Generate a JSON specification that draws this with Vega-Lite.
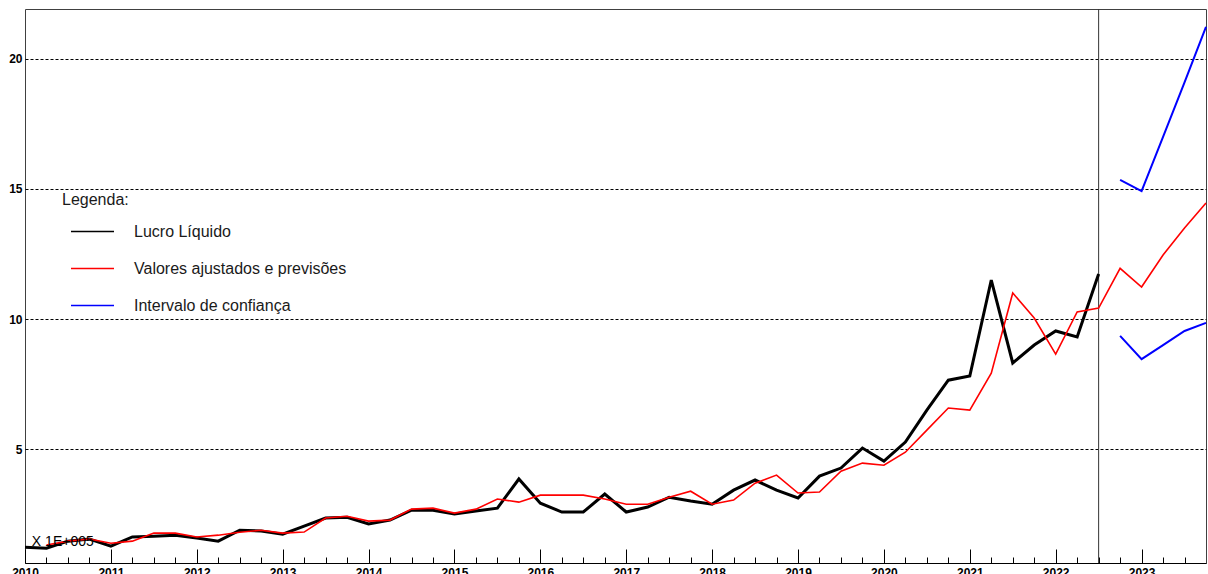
{
  "$schema": "https://vega.github.io/schema/vega-lite/v6.json",
  "width": 1181,
  "height": 554,
  "autosize": "none",
  "padding": {"left": 25, "top": 9, "right": 2, "bottom": 11},
  "background": "white",
  "config": {"view": {"stroke": "#404040", "strokeWidth": 1}, "font": "Liberation Sans"},
  "datasets": {
    "series": [
      {"t": 2010.0, "v": 1.23, "s": "Lucro Líquido", "g": "a"},
      {"t": 2010.25, "v": 1.19, "s": "Lucro Líquido", "g": "a"},
      {"t": 2010.5, "v": 1.46, "s": "Lucro Líquido", "g": "a"},
      {"t": 2010.75, "v": 1.54, "s": "Lucro Líquido", "g": "a"},
      {"t": 2011.0, "v": 1.27, "s": "Lucro Líquido", "g": "a"},
      {"t": 2011.25, "v": 1.62, "s": "Lucro Líquido", "g": "a"},
      {"t": 2011.5, "v": 1.65, "s": "Lucro Líquido", "g": "a"},
      {"t": 2011.75, "v": 1.69, "s": "Lucro Líquido", "g": "a"},
      {"t": 2012.0, "v": 1.58, "s": "Lucro Líquido", "g": "a"},
      {"t": 2012.25, "v": 1.46, "s": "Lucro Líquido", "g": "a"},
      {"t": 2012.5, "v": 1.88, "s": "Lucro Líquido", "g": "a"},
      {"t": 2012.75, "v": 1.85, "s": "Lucro Líquido", "g": "a"},
      {"t": 2013.0, "v": 1.73, "s": "Lucro Líquido", "g": "a"},
      {"t": 2013.25, "v": 2.04, "s": "Lucro Líquido", "g": "a"},
      {"t": 2013.5, "v": 2.35, "s": "Lucro Líquido", "g": "a"},
      {"t": 2013.75, "v": 2.38, "s": "Lucro Líquido", "g": "a"},
      {"t": 2014.0, "v": 2.12, "s": "Lucro Líquido", "g": "a"},
      {"t": 2014.25, "v": 2.27, "s": "Lucro Líquido", "g": "a"},
      {"t": 2014.5, "v": 2.65, "s": "Lucro Líquido", "g": "a"},
      {"t": 2014.75, "v": 2.65, "s": "Lucro Líquido", "g": "a"},
      {"t": 2015.0, "v": 2.5, "s": "Lucro Líquido", "g": "a"},
      {"t": 2015.25, "v": 2.62, "s": "Lucro Líquido", "g": "a"},
      {"t": 2015.5, "v": 2.73, "s": "Lucro Líquido", "g": "a"},
      {"t": 2015.75, "v": 3.85, "s": "Lucro Líquido", "g": "a"},
      {"t": 2016.0, "v": 2.92, "s": "Lucro Líquido", "g": "a"},
      {"t": 2016.25, "v": 2.58, "s": "Lucro Líquido", "g": "a"},
      {"t": 2016.5, "v": 2.58, "s": "Lucro Líquido", "g": "a"},
      {"t": 2016.75, "v": 3.27, "s": "Lucro Líquido", "g": "a"},
      {"t": 2017.0, "v": 2.58, "s": "Lucro Líquido", "g": "a"},
      {"t": 2017.25, "v": 2.77, "s": "Lucro Líquido", "g": "a"},
      {"t": 2017.5, "v": 3.15, "s": "Lucro Líquido", "g": "a"},
      {"t": 2017.75, "v": 3.0, "s": "Lucro Líquido", "g": "a"},
      {"t": 2018.0, "v": 2.88, "s": "Lucro Líquido", "g": "a"},
      {"t": 2018.25, "v": 3.42, "s": "Lucro Líquido", "g": "a"},
      {"t": 2018.5, "v": 3.81, "s": "Lucro Líquido", "g": "a"},
      {"t": 2018.75, "v": 3.42, "s": "Lucro Líquido", "g": "a"},
      {"t": 2019.0, "v": 3.12, "s": "Lucro Líquido", "g": "a"},
      {"t": 2019.25, "v": 3.96, "s": "Lucro Líquido", "g": "a"},
      {"t": 2019.5, "v": 4.27, "s": "Lucro Líquido", "g": "a"},
      {"t": 2019.75, "v": 5.04, "s": "Lucro Líquido", "g": "a"},
      {"t": 2020.0, "v": 4.54, "s": "Lucro Líquido", "g": "a"},
      {"t": 2020.25, "v": 5.27, "s": "Lucro Líquido", "g": "a"},
      {"t": 2020.5, "v": 6.5, "s": "Lucro Líquido", "g": "a"},
      {"t": 2020.75, "v": 7.65, "s": "Lucro Líquido", "g": "a"},
      {"t": 2021.0, "v": 7.81, "s": "Lucro Líquido", "g": "a"},
      {"t": 2021.25, "v": 11.5, "s": "Lucro Líquido", "g": "a"},
      {"t": 2021.5, "v": 8.31, "s": "Lucro Líquido", "g": "a"},
      {"t": 2021.75, "v": 9.0, "s": "Lucro Líquido", "g": "a"},
      {"t": 2022.0, "v": 9.54, "s": "Lucro Líquido", "g": "a"},
      {"t": 2022.25, "v": 9.31, "s": "Lucro Líquido", "g": "a"},
      {"t": 2022.5, "v": 11.73, "s": "Lucro Líquido", "g": "a"},
      {"t": 2010.25, "v": 1.31, "s": "Valores ajustados e previsões", "g": "b"},
      {"t": 2010.5, "v": 1.46, "s": "Valores ajustados e previsões", "g": "b"},
      {"t": 2010.75, "v": 1.54, "s": "Valores ajustados e previsões", "g": "b"},
      {"t": 2011.0, "v": 1.38, "s": "Valores ajustados e previsões", "g": "b"},
      {"t": 2011.25, "v": 1.46, "s": "Valores ajustados e previsões", "g": "b"},
      {"t": 2011.5, "v": 1.77, "s": "Valores ajustados e previsões", "g": "b"},
      {"t": 2011.75, "v": 1.77, "s": "Valores ajustados e previsões", "g": "b"},
      {"t": 2012.0, "v": 1.62, "s": "Valores ajustados e previsões", "g": "b"},
      {"t": 2012.25, "v": 1.69, "s": "Valores ajustados e previsões", "g": "b"},
      {"t": 2012.5, "v": 1.8, "s": "Valores ajustados e previsões", "g": "b"},
      {"t": 2012.75, "v": 1.88, "s": "Valores ajustados e previsões", "g": "b"},
      {"t": 2013.0, "v": 1.77, "s": "Valores ajustados e previsões", "g": "b"},
      {"t": 2013.25, "v": 1.81, "s": "Valores ajustados e previsões", "g": "b"},
      {"t": 2013.5, "v": 2.35, "s": "Valores ajustados e previsões", "g": "b"},
      {"t": 2013.75, "v": 2.42, "s": "Valores ajustados e previsões", "g": "b"},
      {"t": 2014.0, "v": 2.23, "s": "Valores ajustados e previsões", "g": "b"},
      {"t": 2014.25, "v": 2.27, "s": "Valores ajustados e previsões", "g": "b"},
      {"t": 2014.5, "v": 2.69, "s": "Valores ajustados e previsões", "g": "b"},
      {"t": 2014.75, "v": 2.73, "s": "Valores ajustados e previsões", "g": "b"},
      {"t": 2015.0, "v": 2.54, "s": "Valores ajustados e previsões", "g": "b"},
      {"t": 2015.25, "v": 2.69, "s": "Valores ajustados e previsões", "g": "b"},
      {"t": 2015.5, "v": 3.08, "s": "Valores ajustados e previsões", "g": "b"},
      {"t": 2015.75, "v": 2.96, "s": "Valores ajustados e previsões", "g": "b"},
      {"t": 2016.0, "v": 3.23, "s": "Valores ajustados e previsões", "g": "b"},
      {"t": 2016.25, "v": 3.23, "s": "Valores ajustados e previsões", "g": "b"},
      {"t": 2016.5, "v": 3.23, "s": "Valores ajustados e previsões", "g": "b"},
      {"t": 2016.75, "v": 3.08, "s": "Valores ajustados e previsões", "g": "b"},
      {"t": 2017.0, "v": 2.88, "s": "Valores ajustados e previsões", "g": "b"},
      {"t": 2017.25, "v": 2.88, "s": "Valores ajustados e previsões", "g": "b"},
      {"t": 2017.5, "v": 3.15, "s": "Valores ajustados e previsões", "g": "b"},
      {"t": 2017.75, "v": 3.38, "s": "Valores ajustados e previsões", "g": "b"},
      {"t": 2018.0, "v": 2.88, "s": "Valores ajustados e previsões", "g": "b"},
      {"t": 2018.25, "v": 3.04, "s": "Valores ajustados e previsões", "g": "b"},
      {"t": 2018.5, "v": 3.69, "s": "Valores ajustados e previsões", "g": "b"},
      {"t": 2018.75, "v": 4.0, "s": "Valores ajustados e previsões", "g": "b"},
      {"t": 2019.0, "v": 3.31, "s": "Valores ajustados e previsões", "g": "b"},
      {"t": 2019.25, "v": 3.35, "s": "Valores ajustados e previsões", "g": "b"},
      {"t": 2019.5, "v": 4.15, "s": "Valores ajustados e previsões", "g": "b"},
      {"t": 2019.75, "v": 4.46, "s": "Valores ajustados e previsões", "g": "b"},
      {"t": 2020.0, "v": 4.38, "s": "Valores ajustados e previsões", "g": "b"},
      {"t": 2020.25, "v": 4.88, "s": "Valores ajustados e previsões", "g": "b"},
      {"t": 2020.5, "v": 5.73, "s": "Valores ajustados e previsões", "g": "b"},
      {"t": 2020.75, "v": 6.58, "s": "Valores ajustados e previsões", "g": "b"},
      {"t": 2021.0, "v": 6.5, "s": "Valores ajustados e previsões", "g": "b"},
      {"t": 2021.25, "v": 7.92, "s": "Valores ajustados e previsões", "g": "b"},
      {"t": 2021.5, "v": 11.0, "s": "Valores ajustados e previsões", "g": "b"},
      {"t": 2021.75, "v": 10.04, "s": "Valores ajustados e previsões", "g": "b"},
      {"t": 2022.0, "v": 8.65, "s": "Valores ajustados e previsões", "g": "b"},
      {"t": 2022.25, "v": 10.27, "s": "Valores ajustados e previsões", "g": "b"},
      {"t": 2022.5, "v": 10.42, "s": "Valores ajustados e previsões", "g": "b"},
      {"t": 2022.75, "v": 11.95, "s": "Valores ajustados e previsões", "g": "b"},
      {"t": 2023.0, "v": 11.23, "s": "Valores ajustados e previsões", "g": "b"},
      {"t": 2023.25, "v": 12.46, "s": "Valores ajustados e previsões", "g": "b"},
      {"t": 2023.5, "v": 13.5, "s": "Valores ajustados e previsões", "g": "b"},
      {"t": 2023.75, "v": 14.46, "s": "Valores ajustados e previsões", "g": "b"},
      {"t": 2022.75, "v": 15.35, "s": "Intervalo de confiança", "g": "sup"},
      {"t": 2023.0, "v": 14.92, "s": "Intervalo de confiança", "g": "sup"},
      {"t": 2023.25, "v": 17.0, "s": "Intervalo de confiança", "g": "sup"},
      {"t": 2023.5, "v": 19.1, "s": "Intervalo de confiança", "g": "sup"},
      {"t": 2023.75, "v": 21.23, "s": "Intervalo de confiança", "g": "sup"},
      {"t": 2022.75, "v": 9.35, "s": "Intervalo de confiança", "g": "inf"},
      {"t": 2023.0, "v": 8.46, "s": "Intervalo de confiança", "g": "inf"},
      {"t": 2023.25, "v": 9.0, "s": "Intervalo de confiança", "g": "inf"},
      {"t": 2023.5, "v": 9.54, "s": "Intervalo de confiança", "g": "inf"},
      {"t": 2023.75, "v": 9.85, "s": "Intervalo de confiança", "g": "inf"}
    ],
    "divisor": [{"t": 2022.5}],
    "nota": [{"t": 2010.08, "v": 1.27, "label": "X 1E+005"}]
  },
  "encoding": {
    "x": {
      "field": "t", "type": "quantitative",
      "scale": {"domain": [2010, 2023.75], "nice": false, "zero": false},
      "axis": {
        "values": [2010, 2010.25, 2010.5, 2010.75, 2011, 2011.25, 2011.5, 2011.75, 2012, 2012.25, 2012.5, 2012.75, 2013, 2013.25, 2013.5, 2013.75, 2014, 2014.25, 2014.5, 2014.75, 2015, 2015.25, 2015.5, 2015.75, 2016, 2016.25, 2016.5, 2016.75, 2017, 2017.25, 2017.5, 2017.75, 2018, 2018.25, 2018.5, 2018.75, 2019, 2019.25, 2019.5, 2019.75, 2020, 2020.25, 2020.5, 2020.75, 2021, 2021.25, 2021.5, 2021.75, 2022, 2022.25, 2022.5, 2022.75, 2023, 2023.25, 2023.5],
        "title": null,
        "grid": false,
        "domainColor": "#000000",
        "ticks": true,
        "tickColor": "#000000",
        "tickWidth": 1,
        "tickSize": {"condition": {"test": "datum.value % 1 === 0", "value": -14}, "value": -6},
        "labelExpr": "datum.value % 1 === 0 ? format(datum.value, 'd') : ''",
        "labelFont": "Liberation Sans",
        "labelFontWeight": "bold",
        "labelFontSize": 12,
        "labelColor": "#000000",
        "labelPadding": 18,
        "labelFlush": false,
        "labelOverlap": false
      }
    }
  },
  "layer": [
    {
      "data": {"name": "divisor"},
      "mark": {"type": "rule", "color": "#333333", "strokeWidth": 1}
    },
    {
      "data": {"name": "series"},
      "transform": [{"filter": "datum.s === 'Lucro Líquido'"}],
      "mark": {"type": "line", "strokeWidth": 3},
      "encoding": {
        "y": {
          "field": "v", "type": "quantitative",
          "scale": {"domain": [0.62, 21.92], "nice": false, "zero": false},
          "axis": {
            "values": [5, 10, 15, 20],
            "title": null,
            "grid": true,
            "gridDash": [3, 2],
            "gridColor": "#000000",
            "gridWidth": 1,
            "ticks": false,
            "domain": false,
            "labelFont": "Liberation Sans",
            "labelFontWeight": "bold",
            "labelFontSize": 12,
            "labelColor": "#000000",
            "labelPadding": 3
          }
        },
        "color": {
          "field": "s", "type": "nominal",
          "scale": {"domain": ["Lucro Líquido", "Valores ajustados e previsões", "Intervalo de confiança"], "range": ["#000000", "#ff0000", "#0000ff"]},
          "legend": {
            "orient": "none",
            "legendX": 37,
            "legendY": 183,
            "title": "Legenda:",
            "titleFont": "Liberation Sans",
            "titleFontSize": 16,
            "titleFontWeight": "normal",
            "titleColor": "#1a1a1a",
            "titlePadding": 1,
            "titleLimit": 0,
            "labelFont": "Liberation Sans",
            "labelFontSize": 16,
            "labelColor": "#1a1a1a",
            "labelLimit": 0,
            "symbolType": "stroke",
            "symbolSize": 1849,
            "symbolStrokeWidth": 1.5,
            "symbolOffset": 8,
            "labelOffset": 19,
            "rowPadding": 6,
            "padding": 0
          }
        }
      }
    },
    {
      "data": {"name": "series"},
      "transform": [{"filter": "datum.s === 'Valores ajustados e previsões'"}],
      "mark": {"type": "line", "strokeWidth": 1.6},
      "encoding": {
        "y": {"field": "v", "type": "quantitative"},
        "color": {"field": "s", "type": "nominal"}
      }
    },
    {
      "data": {"name": "series"},
      "transform": [{"filter": "datum.s === 'Intervalo de confiança'"}],
      "mark": {"type": "line", "strokeWidth": 2},
      "encoding": {
        "y": {"field": "v", "type": "quantitative"},
        "color": {"field": "s", "type": "nominal"},
        "detail": {"field": "g", "type": "nominal"}
      }
    },
    {
      "data": {"name": "nota"},
      "mark": {"type": "text", "align": "left", "baseline": "alphabetic", "font": "Liberation Sans", "fontSize": 14, "color": "#000000"},
      "encoding": {
        "y": {"field": "v", "type": "quantitative"},
        "text": {"field": "label"}
      }
    }
  ]
}
